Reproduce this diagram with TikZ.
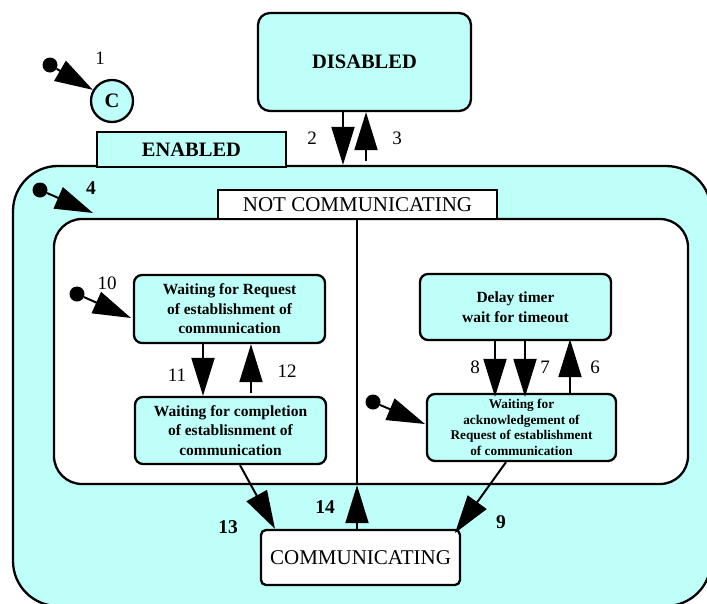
\documentclass[tikz,border=0pt]{standalone}
\usepackage{fontspec}
\setmainfont{Liberation Serif}
\usetikzlibrary{arrows.meta}
\definecolor{statefill}{RGB}{191,255,249}
\begin{document}
\begin{tikzpicture}[x=1pt,y=-1pt,
  box/.style={draw=black,line width=2.3pt,fill=statefill,inner sep=0pt,anchor=center},
  statebox/.style={box,rounded corners=8pt,align=center,font=\fontsize{15.5}{19.5}\selectfont\bfseries},
  smalltext/.style={font=\fontsize{13.3}{15.6}\selectfont\bfseries},
  bigbold/.style={font=\fontsize{20.5}{24}\selectfont\bfseries},
  plainbig/.style={font=\fontsize{21}{24}\selectfont},
  initdot/.style={circle,fill=black,inner sep=0pt,minimum size=15pt},
  trans/.style={line width=2pt,-{Triangle[length=38pt,width=23pt]}},
  num/.style={font=\fontsize{19}{22}\selectfont,inner sep=0pt},
  bnum/.style={font=\fontsize{19.5}{22}\selectfont\bfseries,inner sep=0pt}]
\clip (0,0) rectangle (707,603);
\fill[white] (0,0) rectangle (707,603);

% composite state ENABLED and its contents
\node[box,rounded corners=45pt,minimum width=698pt,minimum height=440pt] (reg) at (362,386) {};
\node[box,fill=white,rounded corners=28pt,minimum width=634pt,minimum height=265pt] (inner) at (371,351.5) {};
\node[box,minimum width=189pt,minimum height=35pt,bigbold] (enabled) at (191.5,149.5) {ENABLED};
\node[box,fill=white,minimum width=279pt,minimum height=29pt,plainbig] (nc) at (357.5,204.5) {NOT COMMUNICATING};
\coordinate (xdiv) at (357,0);
\draw[line width=2pt] (nc.south -| xdiv) -- (inner.south -| xdiv);

% top-level states
\node[box,rounded corners=12pt,minimum width=213pt,minimum height=98pt,bigbold] (dis) at (364.5,62) {DISABLED};
\node[box,circle,minimum size=42pt,bigbold] (c) at (112,101) {C};
\node[box,fill=white,rounded corners=5pt,minimum width=199pt,minimum height=55pt,plainbig] (comm) at (360.5,557.5) {COMMUNICATING};

% substates
\node[statebox,minimum width=191pt,minimum height=68pt] (lt) at (229.5,309) {Waiting for Request\\of establishment of\\communication};
\node[statebox,minimum width=191pt,minimum height=67pt] (lb) at (230.5,430.5) {Waiting for completion\\of establisnment of\\communication};
\node[statebox,minimum width=191pt,minimum height=66pt] (rt) at (515.5,307) {Delay timer\\wait for timeout};
\node[statebox,smalltext,minimum width=189pt,minimum height=67pt] (rb) at (521.5,427.5) {Waiting for\\acknowledgement of\\Request of establishment\\of communication};

% initial pseudostates
\node[initdot] (i1) at (50,65) {};
\node[initdot] (i4) at (40,190) {};
\node[initdot] (i10) at (77,294) {};
\node[initdot] (ir) at (373,402) {};
\coordinate (t4) at (93,213);
\coordinate (t10) at (131,318);
\coordinate (tr) at (425,424);

% transition x positions
\coordinate (x2) at (343,0);
\coordinate (x3) at (366,0);
\coordinate (x11) at (203,0);
\coordinate (x12) at (251,0);
\coordinate (x8) at (495,0);
\coordinate (x7) at (525,0);
\coordinate (x6) at (570,0);
\coordinate (x13s) at (240,0);
\coordinate (x13e) at (275,0);
\coordinate (x9s) at (506,0);
\coordinate (t9) at (455,533);

% transitions
\draw[trans] (i1) -- (c);
\draw[trans] (dis.south -| x2) -- (reg.north -| x2);
\draw[trans] ([yshift=4pt]reg.north -| x3) -- (dis.south -| x3);
\draw[trans] (i4) -- (t4);
\draw[trans] (i10) -- (t10);
\draw[trans] (lt.south -| x11) -- (lb.north -| x11);
\draw[trans] ([yshift=3pt]lb.north -| x12) -- (lt.south -| x12);
\draw[trans] (ir) -- (tr);
\draw[trans] (rt.south -| x8) -- ([yshift=-4pt]rb.north -| x8);
\draw[trans] (rt.south -| x7) -- ([yshift=-4pt]rb.north -| x7);
\draw[trans] (rb.north -| x6) -- ([yshift=2pt]rt.south -| x6);
\draw[trans] (lb.south -| x13s) -- (comm.north -| x13e);
\draw[trans] (rb.south -| x9s) -- (t9);
\draw[trans] (comm.north -| xdiv) -- (inner.south -| xdiv);

% transition labels
\node[num] (n1) at (100,58) {1};
\node[num] (n2) at (312,138) {2};
\node[num] (n3) at (397,138) {3};
\node[bnum] (n4) at (91,188) {4};
\node[num] (n10) at (107,283) {10};
\node[num] (n11) at (177,375) {11};
\node[num] (n12) at (287,371) {12};
\node[num] (n8) at (475,367) {8};
\node[num] (n7) at (545,367) {7};
\node[num] (n6) at (595,367) {6};
\node[bnum] (n13) at (228,527) {13};
\node[bnum] (n14) at (325,507) {14};
\node[bnum] (n9) at (501,522) {9};
\end{tikzpicture}
\end{document}
